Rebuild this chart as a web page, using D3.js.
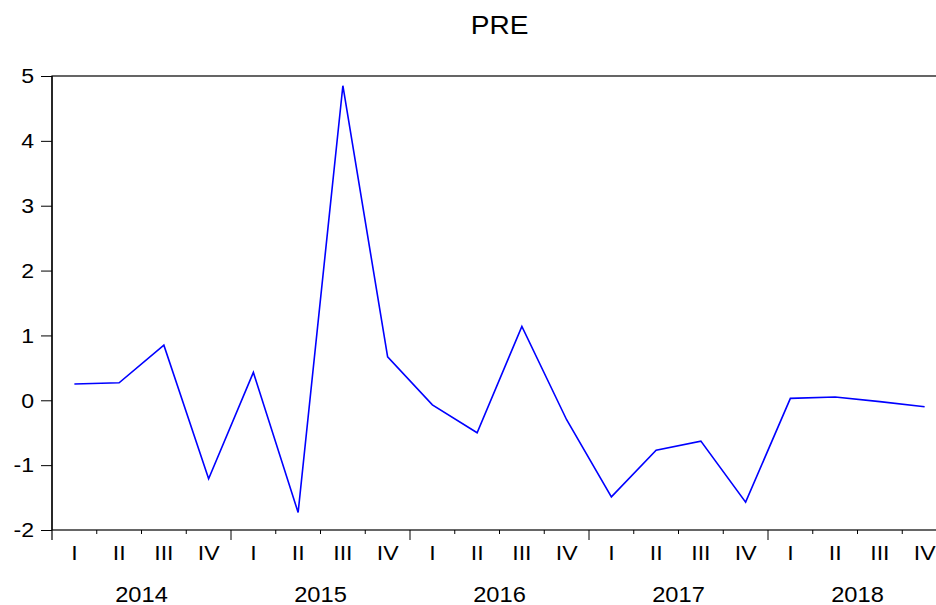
<!DOCTYPE html>
<html>
<head>
<meta charset="utf-8">
<script src="https://cdn.jsdelivr.net/npm/d3@7"></script>
<style>
  body { margin: 0; background: #fff; }
  text { font-family: "Liberation Sans", Arial, sans-serif; fill: #000; }
</style>
</head>
<body>
<svg id="chart" width="936" height="605"></svg>
<script>
// quarterly series, 2014Q1 .. 2018Q4
var years = ["2014", "2015", "2016", "2017", "2018"];
var quarters = ["I", "II", "III", "IV"];
var pre = [0.25, 0.27, 0.85, -1.21,
           0.43, -1.73, 4.85, 0.67,
           -0.07, -0.50, 1.14, -0.30,
           -1.49, -0.77, -0.63, -1.57,
           0.03, 0.05, -0.02, -0.10];
var yTicks = [-2, -1, 0, 1, 2, 3, 4, 5];

// plot box (right edge runs past the window, as in the reference)
var plotL = 52, plotR = 947, plotT = 76, plotB = 530;
var sx = 1.1; // glyphs in the reference are a bit wide

var svg = d3.select("#chart");

var x = d3.scaleLinear().domain([0, pre.length]).range([plotL, plotR]);
var y = d3.scaleLinear().domain([-2, 5]).range([plotB, plotT]);

// title
svg.append("text")
  .attr("transform", "translate(499.5,34) scale(" + sx + ",1)")
  .attr("text-anchor", "middle")
  .style("font-size", "25.5px")
  .text("PRE");

// frame
svg.append("rect")
  .attr("x", plotL).attr("y", plotT)
  .attr("width", plotR - plotL).attr("height", plotB - plotT)
  .attr("fill", "none").attr("stroke", "#000").attr("stroke-width", 1.2);

// y axis (plain hyphen for negatives, like the reference)
var yAxis = svg.append("g")
  .attr("transform", "translate(" + plotL + ",0)")
  .call(d3.axisLeft(y).tickValues(yTicks).tickSize(11).tickPadding(7)
    .tickFormat(function(d) { return String(d); }));
yAxis.select(".domain").remove();
yAxis.selectAll(".tick line").attr("stroke", "#000");
yAxis.selectAll(".tick text")
  .style("font-size", "21px")
  .attr("font-family", null)
  .attr("x", -18 / sx)
  .attr("transform", "scale(" + sx + ",1)");

// left axis extends below the frame
svg.append("line")
  .attr("x1", plotL).attr("x2", plotL).attr("y1", plotT).attr("y2", plotB + 10)
  .attr("stroke", "#000").attr("stroke-width", 1.2);

// x ticks at quarter boundaries, longer at year boundaries
var bounds = d3.range(1, pre.length + 1);
svg.append("g").selectAll("line")
  .data(bounds)
  .join("line")
  .attr("x1", function(d) { return x(d); })
  .attr("x2", function(d) { return x(d); })
  .attr("y1", plotB)
  .attr("y2", function(d) { return d % 4 === 0 ? plotB + 10 : plotB + 4; })
  .attr("stroke", "#000").attr("stroke-width", 1);

// quarter labels
var qData = d3.range(pre.length);
svg.append("g").selectAll("text")
  .data(qData)
  .join("text")
  .attr("transform", function(d) { return "translate(" + x(d + 0.5) + ",560) scale(" + sx + ",1)"; })
  .attr("text-anchor", "middle")
  .style("font-size", "21px")
  .text(function(d) { return quarters[d % 4]; });

// year labels
svg.append("g").selectAll("text")
  .data(years)
  .join("text")
  .attr("transform", function(d, i) { return "translate(" + x(i * 4 + 2) + ",601.5) scale(" + sx + ",1)"; })
  .attr("text-anchor", "middle")
  .style("font-size", "21.5px")
  .text(function(d) { return d; });

// series line
var line = d3.line()
  .x(function(d, i) { return x(i + 0.5); })
  .y(function(d) { return y(d); });

svg.append("path")
  .datum(pre)
  .attr("d", line)
  .attr("fill", "none")
  .attr("stroke", "#0000ff")
  .attr("stroke-width", 1.6)
  .attr("stroke-linejoin", "miter");
</script>
</body>
</html>
